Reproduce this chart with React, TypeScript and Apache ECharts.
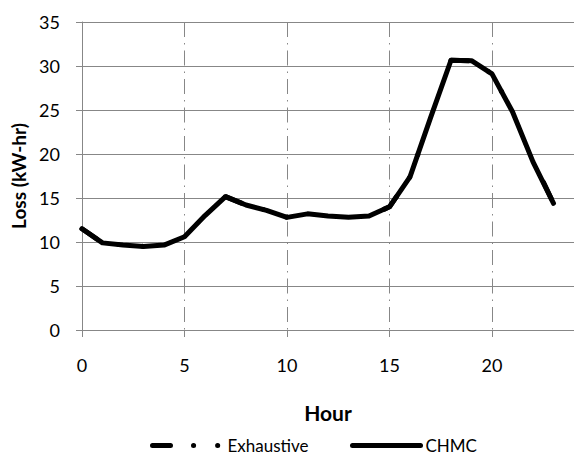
import React, { useEffect, useRef } from "react";
import * as echarts from "echarts";

const hours = [0, 1, 2, 3, 4, 5, 6, 7, 8, 9, 10, 11, 12, 13, 14, 15, 16, 17, 18, 19, 20, 21, 22, 23];
const exhaustive = [11.5, 9.9, 9.65, 9.5, 9.65, 10.6, 13.0, 15.15, 14.2, 13.6, 12.8, 13.2, 12.95, 12.8, 12.95, 14.0, 17.4, 24.0, 30.65, 30.6, 29.1, 24.8, 19.3, 14.4];
const chmc = [11.5, 9.9, 9.65, 9.5, 9.65, 10.6, 13.0, 15.15, 14.2, 13.6, 12.8, 13.2, 12.95, 12.8, 12.95, 14.0, 17.4, 24.1, 30.65, 30.6, 29.1, 24.8, 19.1, 14.4];
const seriesNames = ["Exhaustive", "CHMC"];
const xTitle = "Hour";
const yTitle = "Loss (kW-hr)";

const FONT = "Lato";
const GRID_COLOR = "#878787";

export default function App() {
  const ref = useRef<HTMLDivElement>(null);
  useEffect(() => {
    if (!ref.current) return;
    const chart = echarts.init(ref.current, null, { renderer: "svg" });
    const legendText = { fontSize: 17, lineHeight: 16, fontFamily: FONT, color: "#000" };
    const legendBase = {
      top: 437,
      padding: 0,
      itemHeight: 16,
      textStyle: legendText,
      lineStyle: { width: 5, cap: "round" },
      itemStyle: { opacity: 0 },
    };
    chart.setOption({
      animation: false,
      backgroundColor: "#fff",
      grid: { left: 82, top: 22, right: -1, bottom: 126, containLabel: false },
      legend: [
        { ...legendBase, data: [seriesNames[0]], left: 150, itemWidth: 70 },
        { ...legendBase, data: [seriesNames[1]], left: 350, itemWidth: 68 },
      ],
      xAxis: {
        type: "value",
        min: 0,
        max: 24,
        interval: 5,
        name: xTitle,
        nameLocation: "middle",
        nameGap: 72,
        nameTextStyle: { fontSize: 21, fontWeight: "bold", fontFamily: FONT, color: "#000" },
        axisLine: { show: true, lineStyle: { color: GRID_COLOR, width: 1 } },
        axisTick: { show: true, length: 7, lineStyle: { color: GRID_COLOR, width: 1 } },
        axisLabel: { fontSize: 18, fontFamily: FONT, color: "#000", margin: 26, showMaxLabel: false },
        splitLine: { show: true, lineStyle: { color: GRID_COLOR, width: 1, type: [15, 6, 1.5, 6] } },
      },
      yAxis: {
        type: "value",
        min: 0,
        max: 35,
        interval: 5,
        name: yTitle,
        nameLocation: "middle",
        nameGap: 50,
        nameTextStyle: { fontSize: 19, fontWeight: "bold", fontFamily: FONT, color: "#000" },
        axisLine: { show: true, lineStyle: { color: GRID_COLOR, width: 1 } },
        axisTick: { show: true, length: 6, lineStyle: { color: GRID_COLOR, width: 1 } },
        axisLabel: { fontSize: 18, fontFamily: FONT, color: "#000", margin: 22 },
        splitLine: { show: true, lineStyle: { color: GRID_COLOR, width: 1 } },
      },
      series: [
        {
          name: seriesNames[0],
          type: "line",
          symbol: "none",
          data: hours.map((h, i) => [h, exhaustive[i]]),
          lineStyle: { color: "#000", width: 5, type: [18, 23, 0.1, 24, 0.1, 100], cap: "round", join: "round" },
          itemStyle: { color: "#000" },
          z: 2,
        },
        {
          name: seriesNames[1],
          type: "line",
          symbol: "none",
          data: hours.map((h, i) => [h, chmc[i]]),
          lineStyle: { color: "#000", width: 5, cap: "round", join: "round" },
          itemStyle: { color: "#000" },
          z: 3,
        },
      ],
    });
    return () => chart.dispose();
  }, []);
  return <div ref={ref} style={{ position: "fixed", left: 0, top: 0, width: 574, height: 456 }} />;
}
